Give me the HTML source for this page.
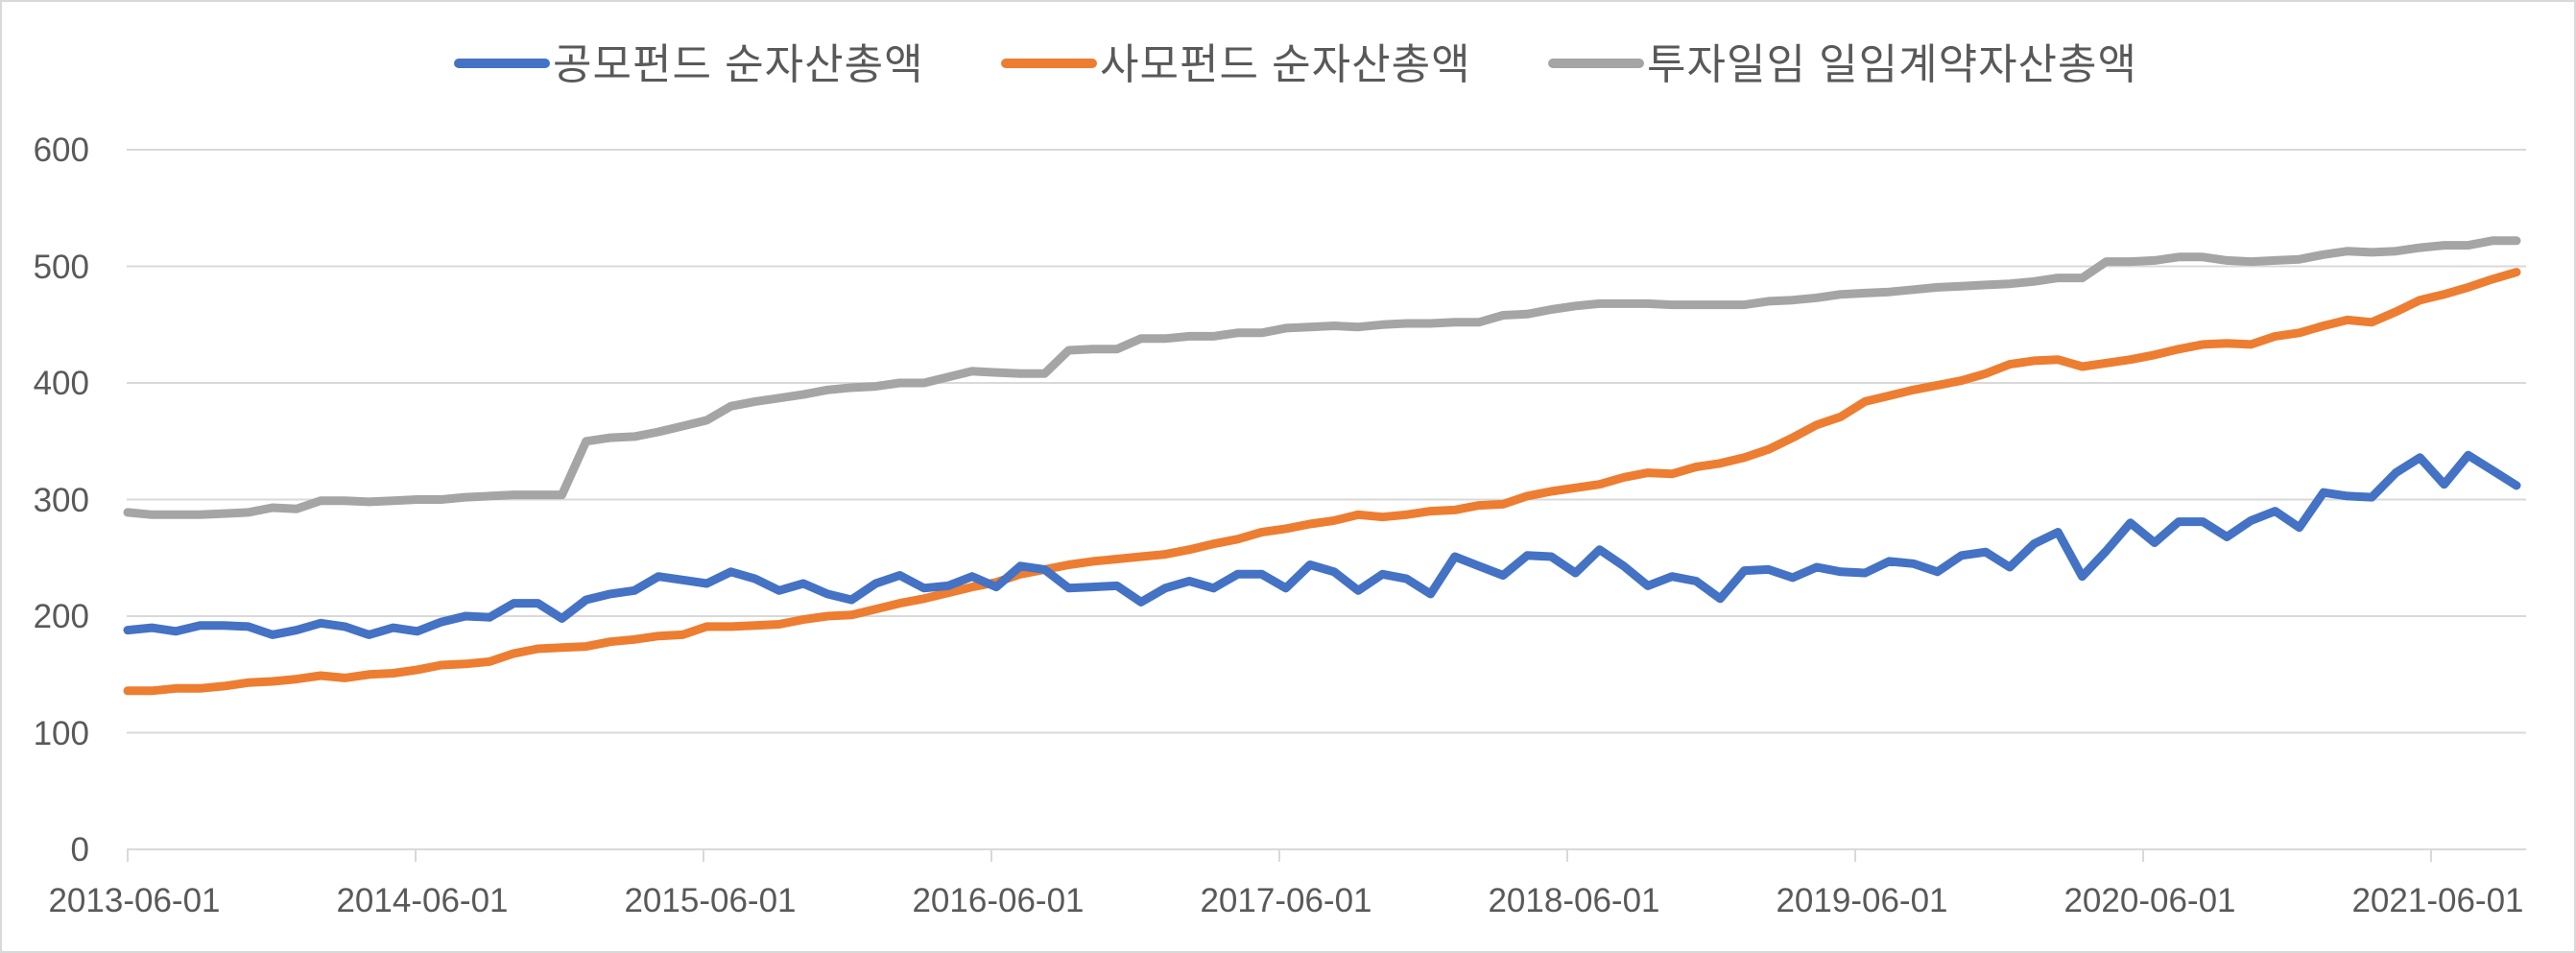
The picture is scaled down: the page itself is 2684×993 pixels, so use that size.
<!DOCTYPE html>
<html><head><meta charset="utf-8"><style>
html,body{margin:0;padding:0;background:#fff}
svg{display:block}
text{font-family:"Liberation Sans","Noto Sans CJK KR",sans-serif;fill:#595959}
</style></head><body>
<svg id="c" width="2684" height="993" viewBox="0 0 2684 993" xmlns="http://www.w3.org/2000/svg">
<rect x="1" y="1" width="2682" height="991" fill="#fff" stroke="#d9d9d9" stroke-width="2"/>
<g stroke="#d9d9d9" stroke-width="2">
<line x1="132" y1="156" x2="2632" y2="156"/>
<line x1="132" y1="277.5" x2="2632" y2="277.5"/>
<line x1="132" y1="399" x2="2632" y2="399"/>
<line x1="132" y1="520.5" x2="2632" y2="520.5"/>
<line x1="132" y1="642" x2="2632" y2="642"/>
<line x1="132" y1="763.5" x2="2632" y2="763.5"/>
<line x1="132" y1="885" x2="2632" y2="885"/>
<line x1="133" y1="885" x2="133" y2="898"/>
<line x1="433" y1="885" x2="433" y2="898"/>
<line x1="733" y1="885" x2="733" y2="898"/>
<line x1="1033" y1="885" x2="1033" y2="898"/>
<line x1="1333" y1="885" x2="1333" y2="898"/>
<line x1="1633" y1="885" x2="1633" y2="898"/>
<line x1="1933" y1="885" x2="1933" y2="898"/>
<line x1="2233" y1="885" x2="2233" y2="898"/>
<line x1="2533" y1="885" x2="2533" y2="898"/>
</g>
<g font-size="35" text-anchor="end">
<text x="93" y="168">600</text><text x="93" y="290">500</text><text x="93" y="411">400</text>
<text x="93" y="533">300</text><text x="93" y="654">200</text><text x="93" y="776">100</text><text x="93" y="897">0</text>
</g>
<g font-size="35" text-anchor="middle">
<text x="140" y="950">2013-06-01</text><text x="440" y="950">2014-06-01</text><text x="740" y="950">2015-06-01</text>
<text x="1040" y="950">2016-06-01</text><text x="1340" y="950">2017-06-01</text><text x="1640" y="950">2018-06-01</text>
<text x="1940" y="950">2019-06-01</text><text x="2240" y="950">2020-06-01</text><text x="2540" y="950">2021-06-01</text>
</g>
<g stroke-width="10" stroke-linecap="round">
<line x1="478" y1="66" x2="568" y2="66" stroke="#4472C4"/>
<line x1="1048" y1="66" x2="1138" y2="66" stroke="#ED7D31"/>
<line x1="1618" y1="66" x2="1708" y2="66" stroke="#A5A5A5"/>
</g>
<g font-size="44" letter-spacing="1">
<text x="576" y="82">공모펀드 순자산총액</text>
<text x="1146" y="82">사모펀드 순자산총액</text>
<text x="1716" y="82">투자일임 일임계약자산총액</text>
</g>
<g id="lines" fill="none" stroke-width="9" stroke-linejoin="round" stroke-linecap="round"></g>
</svg>
<script>
var blue=[188,190,187,192,192,191,184,188,194,191,184,190,187,195,200,199,211,211,198,214,219,222,234,231,228,238,232,222,228,219,214,228,235,224,226,234,225,243,240,224,225,226,212,224,230,224,236,236,224,244,238,222,236,232,219,251,243,235,252,251,237,257,243,226,234,230,215,239,240,233,242,238,237,247,245,238,252,255,242,262,272,234,256,280,263,281,281,268,282,290,276,306,303,302,323,336,313,338,325,312];
var orange=[136,136,138,138,140,143,144,146,149,147,150,151,154,158,159,161,168,172,173,174,178,180,183,184,191,191,192,193,197,200,201,206,211,215,220,225,229,236,240,244,247,249,251,253,257,262,266,272,275,279,282,287,285,287,290,291,295,296,303,307,310,313,319,323,322,328,331,336,343,353,364,371,384,389,394,398,402,408,416,419,420,414,417,420,424,429,433,434,433,440,443,449,454,452,461,471,476,482,489,495];
var gray=[289,287,287,287,288,289,293,292,299,299,298,299,300,300,302,303,304,304,304,350,353,354,358,363,368,380,384,387,390,394,396,397,400,400,405,410,409,408,408,428,429,429,438,438,440,440,443,443,447,448,449,448,450,451,451,452,452,458,459,463,466,468,468,468,467,467,467,467,470,471,473,476,477,478,480,482,483,484,485,487,490,490,504,504,505,508,508,505,504,505,506,510,513,512,513,516,518,518,522,522];
var g=document.getElementById('lines');
function add(d,c){var dx=(2622-133)/(d.length-1);var p=d.map(function(v,i){return (133+i*dx).toFixed(1)+','+(885-v*1.215).toFixed(1)}).join(' ');
var e=document.createElementNS('http://www.w3.org/2000/svg','polyline');e.setAttribute('points',p);e.setAttribute('stroke',c);g.appendChild(e);}
add(gray,'#A5A5A5');add(orange,'#ED7D31');add(blue,'#4472C4');
</script>
</body></html>
